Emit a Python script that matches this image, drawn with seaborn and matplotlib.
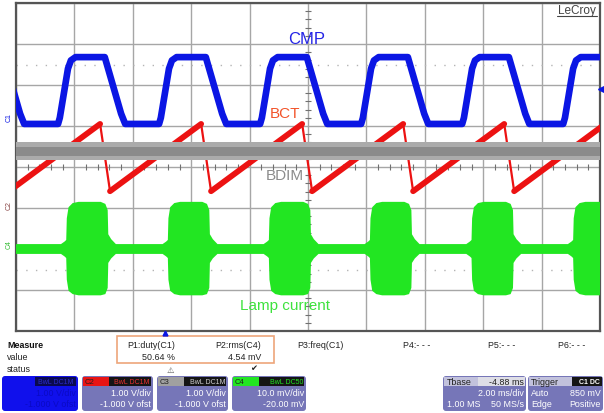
import numpy as np
import pandas as pd
import seaborn as sns
import matplotlib.pyplot as plt
from matplotlib.patches import Rectangle, FancyBboxPatch

# screen is 10 x 8 divisions, time in divisions (2 ms/div)
# CMP (C1): rise start of every cycle + one-cycle shape (offset, level)
cmp_rise = [-1.01, 0.72, 2.45, 4.18, 5.91, 7.64, 9.37]
cmp_shape_t = [0.0, 0.03, 0.17, 0.22, 0.30, 0.80, 1.08, 1.15]
cmp_shape_v = [5.05, 5.20, 6.40, 6.60, 6.68, 6.68, 5.30, 5.05]

# BCT (C2): sawtooth peaks, drop to trough
bct_peak = [-0.29, 1.44, 3.17, 4.90, 6.63, 8.36, 10.09]
bct_peak_v = 5.05
bct_trough_v = 3.41
bct_drop = 0.17

# BDIM (C3): noise band
bdim_t = [0, 10]
bdim_lo = [4.17, 4.17]
bdim_hi = [4.60, 4.60]
bdim_core_lo = [4.27, 4.27]
bdim_core_hi = [4.50, 4.50]

# Lamp current (C4): burst starts + burst envelope shape
lamp_on = [-0.87, 0.87, 2.61, 4.34, 6.07, 7.81, 9.55]
lamp_shape_t = [-0.10, -0.04, -0.01, 0.0, 0.03, 0.10, 0.20, 0.58, 0.66, 0.70, 0.71, 0.76, 0.84]
lamp_shape_hi = [2.12, 2.18, 2.22, 2.75, 3.02, 3.12, 3.15, 3.15, 3.10, 2.95, 2.36, 2.24, 2.12]
lamp_shape_lo = [1.88, 1.82, 1.78, 1.25, 0.98, 0.90, 0.87, 0.87, 0.90, 1.05, 1.66, 1.77, 1.88]

BLUE = "#0b16e4"
RED = "#ec1212"
GREEN = "#22e622"
PURPLE = "#7676b8"

sns.set_style("white")
plt.rcParams["font.family"] = ["Liberation Sans", "DejaVu Sans"]

fig = plt.figure(figsize=(6.04, 4.14), dpi=100)
ax = fig.add_axes([16 / 604, 82 / 414, 584 / 604, 328 / 414])

# dotted reference levels
for lvl in [6.5, 1.5]:
    ax.axhline(lvl, color="#b4b4b4", lw=1.0, ls=(0, (1, 6)), zorder=1)

# traces
cmp_df = pd.DataFrame({
    "t": np.concatenate([r + np.array(cmp_shape_t) for r in cmp_rise]),
    "v": np.tile(cmp_shape_v, len(cmp_rise)),
})
sns.lineplot(data=cmp_df, x="t", y="v", color=BLUE, lw=4.8, estimator=None,
             sort=False, ax=ax, zorder=4)

ramp_rows, drop_rows = [], []
for i, p in enumerate(bct_peak):
    drop_rows += [(i, p, bct_peak_v), (i, p + bct_drop, bct_trough_v)]
    if i + 1 < len(bct_peak):
        ramp_rows += [(i, p + bct_drop, bct_trough_v), (i, bct_peak[i + 1], bct_peak_v)]
ramps = pd.DataFrame(ramp_rows, columns=["seg", "t", "v"])
drops = pd.DataFrame(drop_rows, columns=["seg", "t", "v"])
sns.lineplot(data=ramps, x="t", y="v", units="seg", estimator=None, color=RED,
             lw=4.2, ax=ax, zorder=3)
sns.lineplot(data=drops, x="t", y="v", units="seg", estimator=None, color=RED,
             lw=1.6, ax=ax, zorder=3)

ax.fill_between(bdim_t, bdim_lo, bdim_hi, color="#ababab", lw=0, zorder=3.5)
ax.fill_between(bdim_t, bdim_core_lo, bdim_core_hi, color="#8b8b8b", lw=0, zorder=3.6)

lamp_t = np.concatenate([s + np.array(lamp_shape_t) for s in lamp_on])
ax.fill_between(lamp_t, np.tile(lamp_shape_lo, len(lamp_on)),
                np.tile(lamp_shape_hi, len(lamp_on)), color=GREEN, lw=0, zorder=3)

ax.set_xlim(0, 10)
ax.set_ylim(0, 8)
ax.set_xticks(range(11))
ax.set_yticks(range(9))
ax.set_xlabel("")
ax.set_ylabel("")
ax.tick_params(length=0, labelbottom=False, labelleft=False)
ax.grid(True, color="#a6a6a6", lw=1.0)
ax.set_axisbelow(True)
for s in ax.spines.values():
    s.set_color("#555555")
    s.set_linewidth(1.6)
    s.set_visible(True)

# crosshair minor ticks
mx = [k * 0.2 for k in range(51) if k % 5]
my = [k * 0.2 for k in range(41) if k % 5]
ax.plot(mx, [4] * len(mx), ls="none", marker="|", ms=4, mew=0.8, color="#707070", zorder=2)
ax.plot([5] * len(my), my, ls="none", marker="_", ms=4, mew=0.8, color="#707070", zorder=2)

# trace labels
ax.text(0.497, 0.893, "CMP", transform=ax.transAxes, color="#2323e6", fontsize=12,
        ha="center", va="center", zorder=2)
ax.text(0.461, 0.665, "BCT", transform=ax.transAxes, color="#f2542a", fontsize=11,
        ha="center", va="center", zorder=2)
ax.text(0.461, 0.477, "BDIM", transform=ax.transAxes, color="#8c8c8c", fontsize=11,
        ha="center", va="center", zorder=2)
ax.text(0.461, 0.079, "Lamp current", transform=ax.transAxes, color="#3ee23e",
        fontsize=11, ha="center", va="center", zorder=2)

# pixel overlay for the instrument panel
ov = fig.add_axes([0, 0, 1, 1], zorder=5)
ov.set_xlim(0, 604)
ov.set_ylim(414, 0)
ov.axis("off")
ov.patch.set_visible(False)

ov.text(577, 11, "LeCroy", color="#444444", fontsize=8.5, ha="center", va="center")
ov.plot([557, 597], [17, 17], color="#444444", lw=0.8)

ov.text(9, 118, "C1", color=BLUE, fontsize=5, rotation=90, ha="center", va="center")
ov.text(9, 206, "C2", color="#884444", fontsize=5, rotation=90, ha="center", va="center")
ov.text(9, 245, "C4", color="#33bb33", fontsize=5, rotation=90, ha="center", va="center")
ov.plot([601], [90], marker="<", ms=4, color=BLUE)
ov.plot([165], [334], marker="^", ms=3.5, color=BLUE)

fs = 6.4
ov.text(7, 346, "Measure", fontsize=fs, weight="bold", va="center", color="#111111")
ov.text(7, 358, "value", fontsize=fs, va="center", color="#222222")
ov.text(7, 370, "status", fontsize=fs, va="center", color="#222222")
ov.add_patch(Rectangle((117, 337), 157, 27, fill=False, ec="#eda57a", lw=1.2))
ov.text(127, 346, "P1:duty(C1)", fontsize=fs, va="center", color="#222222")
ov.text(261, 346, "P2:rms(C4)", fontsize=fs, va="center", ha="right", color="#222222")
ov.text(175, 358, "50.64 %", fontsize=fs, va="center", ha="right", color="#222222")
ov.text(261, 358, "4.54 mV", fontsize=fs, va="center", ha="right", color="#222222")
ov.text(170, 370, "\u26a0", fontsize=6, va="center", ha="center", color="#555555",
        family="DejaVu Sans")
ov.text(254, 369, "\u2714", fontsize=6, va="center", ha="center", color="#222222",
        family="DejaVu Sans")
ov.text(297, 346, "P3:freq(C1)", fontsize=fs, va="center", color="#222222")
for x, lab in [(403, "P4:- - -"), (488, "P5:- - -"), (558, "P6:- - -")]:
    ov.text(x, 346, lab, fontsize=fs, va="center", color="#222222")


def panel(x0, x1, body):
    ov.add_patch(FancyBboxPatch((x0, 377), x1 - x0, 35,
                                boxstyle="round,pad=0,rounding_size=3",
                                fc=body, ec="none"))


def chan_box(x0, x1, head_col, name, tag, tag_col, line1, line2, txt="white"):
    panel(x0, x1, PURPLE)
    ov.add_patch(Rectangle((x0 + 1, 378), 26, 9, fc=head_col, ec="none"))
    ov.add_patch(Rectangle((x0 + 27, 378), x1 - x0 - 29, 9, fc="#151515", ec="none"))
    ov.text(x0 + 3, 382.5, name, fontsize=5.5, va="center", color="#202020")
    ov.text(x1 - 3, 382.5, tag, fontsize=5, va="center", ha="right", color=tag_col)
    ov.text(x1 - 2, 394, line1, fontsize=fs, va="center", ha="right", color=txt)
    ov.text(x1 - 2, 405, line2, fontsize=fs, va="center", ha="right", color=txt)


panel(2, 78, "#1010ec")
ov.add_patch(Rectangle((35, 378), 41, 9, fc="#0a0a50", ec="none"))
ov.text(74, 382.5, "BwL DC1M", fontsize=5, va="center", ha="right", color="#2a2acc")
ov.text(76, 394, "1.00 V/div", fontsize=fs, va="center", ha="right", color="#0a0ac4")
ov.text(76, 405, "-1.000 V ofst", fontsize=fs, va="center", ha="right", color="#0a0ac4")

chan_box(82, 153, "#e81414", "C2", "BwL DC1M", "#e83030", "1.00 V/div", "-1.000 V ofst")
chan_box(157, 228, "#a0a0a0", "C3", "BwL DC1M", "#d0d0d0", "1.00 V/div", "-1.000 V ofst")
chan_box(232, 306, "#22e622", "C4", "BwL DC50", "#22e622", "10.0 mV/div", "-20.00 mV")

# timebase
panel(443, 526, PURPLE)
ov.add_patch(Rectangle((444, 378), 81, 9, fc="#c2c2dc", ec="none"))
ov.add_patch(Rectangle((478, 378), 47, 9, fc="#dedee6", ec="none"))
ov.text(447, 382.5, "Tbase", fontsize=fs, va="center", color="#202020")
ov.text(524, 382.5, "-4.88 ms", fontsize=fs, va="center", ha="right", color="#202020")
ov.text(524, 394, "2.00 ms/div", fontsize=fs, va="center", ha="right", color="white")
ov.text(447, 405, "1.00 MS", fontsize=fs, va="center", color="white")
ov.text(524, 405, "50 MS/s", fontsize=fs, va="center", ha="right", color="white")

# trigger
panel(528, 603, PURPLE)
ov.add_patch(Rectangle((529, 378), 43, 9, fc="#c2c2dc", ec="none"))
ov.add_patch(Rectangle((572, 378), 30, 9, fc="#151515", ec="none"))
ov.text(531, 382.5, "Trigger", fontsize=fs, va="center", color="#202020")
ov.text(600, 382.5, "C1 DC", fontsize=5, va="center", ha="right", color="white", weight="bold")
ov.text(531, 394, "Auto", fontsize=fs, va="center", color="white")
ov.text(601, 394, "850 mV", fontsize=fs, va="center", ha="right", color="white")
ov.text(531, 405, "Edge", fontsize=fs, va="center", color="white")
ov.text(601, 405, "Positive", fontsize=fs, va="center", ha="right", color="white")

fig.savefig("out.png", dpi=100, facecolor="white")
